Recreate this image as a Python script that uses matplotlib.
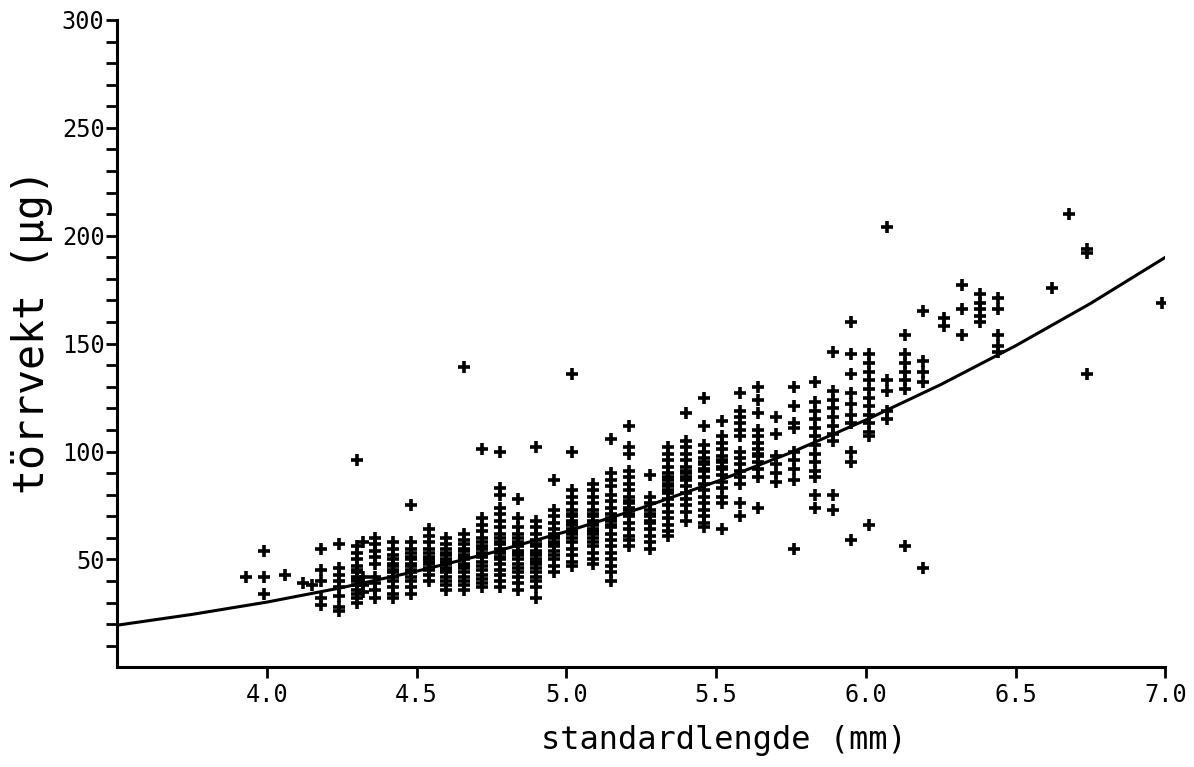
import matplotlib
matplotlib.use("Agg")
import matplotlib.pyplot as plt
import numpy as np

# standard length columns (mm) and the dry weights (ug) measured in each
column_length = [
    3.93, 3.99, 4.06, 4.12, 4.15, 4.18, 4.24, 4.30, 4.32, 4.36, 4.42, 4.48,
    4.54, 4.60, 4.66, 4.72, 4.78, 4.84, 4.90, 4.96, 5.02, 5.09, 5.15, 5.21,
    5.28, 5.34, 5.40, 5.46, 5.52, 5.58, 5.64, 5.70, 5.76, 5.83, 5.89, 5.95,
    6.01, 6.07, 6.13, 6.19, 6.26, 6.32, 6.38, 6.44, 6.62, 6.68, 6.74, 6.99,
]
column_weight = [
    [42],
    [54, 42, 34],
    [43],
    [39],
    [38],
    [55, 45, 40, 32, 29],
    [57, 46, 43, 40, 37, 33, 28, 26],
    [96, 56, 53, 50, 47, 45, 44, 42, 41, 40, 38, 36, 34, 32, 30],
    [58, 42, 38, 35],
    [60, 57, 54, 51, 48, 42, 39, 36, 32],
    [58, 55, 52, 50, 48, 47, 45, 44, 42, 40, 37, 34, 32],
    [75, 58, 55, 53, 51, 50, 48, 47, 45, 44, 42, 40, 37, 34],
    [64, 61, 58, 55, 53, 51, 50, 49, 48, 46, 45, 43, 40],
    [60, 57, 55, 53, 52, 50, 49, 48, 46, 45, 44, 42, 40, 38, 36],
    [139, 62, 59, 57, 55, 54, 52, 51, 50, 48, 47, 46, 44, 42, 40, 38, 36],
    [101, 69, 66, 63, 60, 58, 56, 55, 53, 52, 51, 49, 47, 45, 43, 41, 39, 37],
    [100, 83, 80, 74, 71, 68, 65, 62, 60, 58, 57, 55, 54, 53, 51, 50, 48,
     45, 43, 40, 37],
    [78, 69, 65, 62, 60, 58, 57, 56, 54, 53, 52, 50, 48, 46, 44, 42, 39, 36],
    [102, 68, 65, 62, 59, 57, 56, 54, 53, 52, 50, 49, 48, 46, 44, 42, 40,
     37, 32],
    [87, 73, 70, 67, 64, 62, 61, 60, 58, 57, 56, 54, 52, 50, 47, 44],
    [136, 100, 82, 79, 76, 73, 71, 70, 68, 67, 66, 64, 63, 62, 60, 58, 55,
     52, 49, 47],
    [85, 82, 79, 76, 73, 71, 70, 68, 67, 66, 64, 63, 62, 60, 58, 56, 53,
     50, 48],
    [106, 90, 87, 84, 80, 77, 74, 71, 69, 68, 66, 65, 62, 59, 56, 53, 50,
     47, 44, 40],
    [112, 102, 99, 91, 88, 85, 82, 79, 77, 76, 74, 73, 71, 70, 67, 64, 61,
     59, 56],
    [89, 79, 76, 73, 71, 70, 68, 67, 64, 61, 58, 55],
    [102, 99, 96, 93, 90, 88, 87, 85, 84, 82, 81, 78, 75, 72, 69, 66, 63, 61],
    [118, 105, 102, 99, 96, 93, 91, 90, 88, 87, 84, 81, 78, 75, 72, 68],
    [125, 112, 103, 100, 97, 95, 94, 92, 91, 88, 85, 82, 79, 76, 73, 70,
     67, 65],
    [114, 107, 104, 101, 98, 96, 95, 93, 92, 89, 86, 83, 79, 76, 64],
    [127, 119, 116, 113, 110, 107, 100, 97, 94, 91, 88, 85, 76, 70],
    [130, 124, 118, 110, 107, 104, 101, 99, 98, 95, 92, 88, 74],
    [116, 108, 98, 94, 90, 86],
    [130, 121, 113, 111, 100, 96, 92, 87, 55],
    [132, 123, 119, 115, 111, 107, 103, 99, 95, 91, 88, 80, 74],
    [146, 128, 124, 120, 116, 112, 108, 105, 80, 73],
    [160, 145, 136, 127, 122, 117, 113, 100, 95, 59],
    [145, 141, 137, 133, 129, 125, 121, 117, 113, 109, 107, 66],
    [204, 133, 128, 119, 115],
    [154, 145, 141, 137, 133, 129, 56],
    [165, 142, 137, 132, 46],
    [162, 158],
    [177, 166, 154],
    [173, 169, 166, 163, 160],
    [171, 166, 154, 149, 146],
    [176],
    [210],
    [194, 192, 136],
    [169],
]

# fitted length-weight curve
curve_length = [3.5, 3.75, 4.0, 4.25, 4.5, 4.75, 5.0, 5.25, 5.5, 5.75,
                6.0, 6.25, 6.5, 6.75, 7.0]
curve_weight = [19.5, 24.5, 30.2, 36.9, 44.5, 53.1, 62.9, 73.8, 86.0, 99.5,
                114.6, 131.0, 149.0, 168.6, 190.0]

x_ticks = [4.0, 4.5, 5.0, 5.5, 6.0, 6.5, 7.0]
y_ticks = [50, 100, 150, 200, 250, 300]

plt.rcParams["font.family"] = ["DejaVu Sans Mono"]

fig = plt.figure(figsize=(11.94, 7.67), dpi=100)
ax = fig.add_axes([0.098, 0.130, 0.878, 0.844])

xs = []
ys = []
for x, weights in zip(column_length, column_weight):
    for w in weights:
        xs.append(x)
        ys.append(w)

ax.plot(xs, ys, linestyle="none", marker="+", markersize=9,
        markeredgewidth=2.6, color="black")
ax.plot(curve_length, curve_weight, color="black", linewidth=2.2)

ax.set_xlim(3.5, 7.0)
ax.set_ylim(0, 300)
ax.set_xticks(x_ticks)
ax.set_xticklabels([f"{t:.1f}" for t in x_ticks])
ax.set_yticks(y_ticks)
ax.set_yticks(np.arange(10, 300, 10), minor=True)

for side in ["top", "right"]:
    ax.spines[side].set_visible(False)
for side in ["left", "bottom"]:
    ax.spines[side].set_linewidth(2.2)

ax.tick_params(axis="both", which="both", direction="out", length=8, width=2,
               labelsize=17)
ax.tick_params(axis="x", pad=3)
ax.tick_params(axis="y", pad=1)

ax.set_xlabel("standardlengde (mm)", fontsize=23, va="center")
ax.xaxis.set_label_coords(0.579, -0.113)
ax.set_ylabel("törrvekt (µg)", fontsize=30, va="center")
ax.yaxis.set_label_coords(-0.081, 0.518)

fig.savefig("out.png", dpi=100, facecolor="white")
